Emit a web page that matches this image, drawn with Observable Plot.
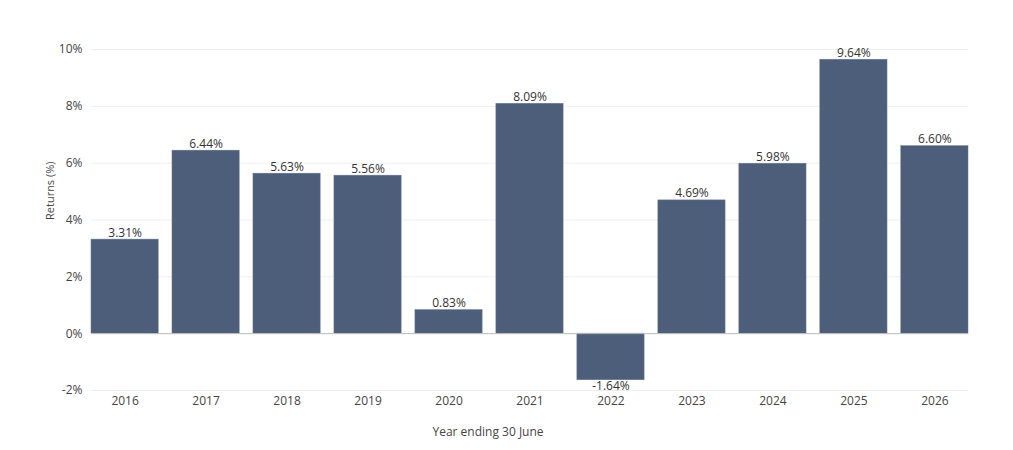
<!DOCTYPE html>
<html><head><meta charset="utf-8">
<script src="https://cdn.jsdelivr.net/npm/d3@7"></script>
<script src="https://cdn.jsdelivr.net/npm/@observablehq/plot@0.6"></script>
<style>
body{margin:0;background:#fff;font-family:"Open Sans",sans-serif;}
</style></head>
<body><div id="chart"></div>
<script>
const years = ["2016","2017","2018","2019","2020","2021","2022","2023","2024","2025","2026"];
const returns = [3.31,6.44,5.63,5.56,0.83,8.09,-1.64,4.69,5.98,9.64,6.60];
const yTicks = [-2,0,2,4,6,8,10];
const data = years.map((y,i)=>({year:y, value:returns[i]}));
const fmt = v => v.toFixed(2) + "%";
const chart = Plot.plot({
  width: 1013, height: 450,
  marginLeft: 91, marginRight: 45, marginTop: 49, marginBottom: 60,
  style: {fontFamily: "'Open Sans', sans-serif", fontSize: "12px", color: "#444", background: "#fff"},
  x: {type: "band", domain: years, paddingInner: 0.17, paddingOuter: 0, round: false, label: null},
  y: {domain: [-2, 10], label: null},
  marks: [
    Plot.gridY(yTicks.filter(t=>t!==0), {stroke: "#eee", strokeOpacity: 1, strokeWidth: 1}),
    Plot.barY(data, {x: "year", y: "value", fill: "#4c5e79", stroke: "#6b7b93", strokeWidth: 0.5}),
    Plot.ruleY([0], {stroke: "#bbb", strokeWidth: 1}),
    Plot.text(data.filter(d=>d.value>=0), {x: "year", y: "value", text: d => fmt(d.value),
      lineAnchor: "bottom", dy: -3, fill: "#333", fontSize: 12}),
    Plot.text(data.filter(d=>d.value<0), {x: "year", y: "value", text: d => fmt(d.value),
      lineAnchor: "top", dy: 1, fill: "#333", fontSize: 12}),
    Plot.axisY(yTicks, {tickSize: 0, tickPadding: 9, tickFormat: d => d + "%", label: null, fontSize: 12, fill: "#444"}),
    Plot.axisX({tickSize: 0, tickPadding: 6, label: null, fontSize: 12, fill: "#444"}),
    Plot.text(["Year ending 30 June"], {frameAnchor: "bottom", dx: -42, dy: 45, fontSize: 12, fill: "#444"}),
    Plot.text(["Returns (%)"], {frameAnchor: "left", dx: -41, rotate: -90, fontSize: 11, fill: "#444"})
  ]
});
document.getElementById("chart").appendChild(chart);
</script></body></html>
